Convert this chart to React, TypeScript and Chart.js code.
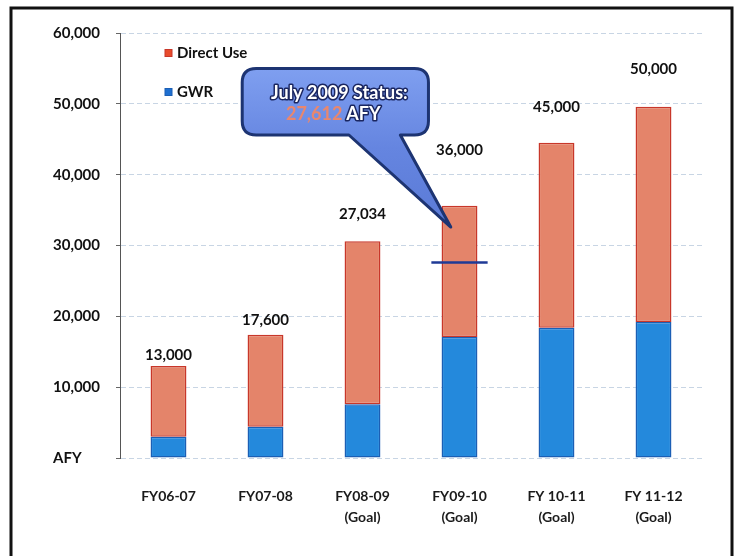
import React, { useEffect, useRef } from 'react';
import { Chart, registerables } from 'chart.js';

Chart.register(...registerables);

// ---- data ----
const categories: (string | string[])[] = [
  'FY06-07',
  'FY07-08',
  ['FY08-09', '(Goal)'],
  ['FY09-10', '(Goal)'],
  ['FY 10-11', '(Goal)'],
  ['FY 11-12', '(Goal)'],
];
const gwrValues = [3000, 4400, 7600, 17100, 18400, 19200];
const directUseValues = [10000, 13000, 23000, 18500, 26100, 30400];
const totalLabels = ['13,000', '17,600', '27,034', '36,000', '45,000', '50,000'];
const seriesNames = ['GWR', 'Direct Use'];
const yAxisUnit = 'AFY';
const statusValue = 27612;
const statusCategoryIndex = 3;
const statusTitle = 'July 2009 Status:';
const statusValueText = '27,612';
const statusUnit = 'AFY';

// ---- styling ----
const directFill = '#e4846a';
const directBorder = '#c8372a';
const gwrFill = '#2489dc';
const gwrBorder = '#1b5fb5';
const labelLift = [11, 15, 27, 56, 36, 38];
// callout annotation in data coordinates (category index, value)
const callout = { x0: 0.76, x1: 2.68, yTop: 55000, yBottom: 45600, baseLeft: 1.86, baseRight: 2.39, tipX: 2.91, tipY: 32600 };

const decorPlugin = {
  id: 'decor',
  beforeDraw(chart: any) {
    const ctx = chart.ctx;
    ctx.save();
    ctx.fillStyle = '#ffffff';
    ctx.fillRect(0, 0, chart.width, chart.height);
    ctx.restore();
  },
  afterDatasetsDraw(chart: any) {
    const ctx = chart.ctx;
    const xs = chart.scales.x;
    const ys = chart.scales.y;
    const area = chart.chartArea;

    // total labels above bars
    ctx.save();
    ctx.font = 'bold 15px Lato';
    ctx.fillStyle = '#111';
    ctx.textAlign = 'center';
    ctx.textBaseline = 'middle';
    totalLabels.forEach((t, i) => {
      const top = ys.getPixelForValue(gwrValues[i] + directUseValues[i]);
      ctx.fillText(t, xs.getPixelForValue(i), top - labelLift[i]);
    });
    ctx.restore();

    // status line
    ctx.save();
    const sy = ys.getPixelForValue(statusValue);
    ctx.strokeStyle = '#1f3a96';
    ctx.lineWidth = 2.5;
    ctx.beginPath();
    ctx.moveTo(xs.getPixelForValue(statusCategoryIndex - 0.29), sy);
    ctx.lineTo(xs.getPixelForValue(statusCategoryIndex + 0.29), sy);
    ctx.stroke();
    ctx.restore();

    // callout
    const L = xs.getPixelForValue(callout.x0);
    const R = xs.getPixelForValue(callout.x1);
    const T = ys.getPixelForValue(callout.yTop);
    const B = ys.getPixelForValue(callout.yBottom);
    const b1 = xs.getPixelForValue(callout.baseLeft);
    const b2 = xs.getPixelForValue(callout.baseRight);
    const tx = xs.getPixelForValue(callout.tipX);
    const ty = ys.getPixelForValue(callout.tipY);
    const r = 14;
    ctx.save();
    ctx.beginPath();
    ctx.moveTo(L + r, T);
    ctx.lineTo(R - r, T);
    ctx.quadraticCurveTo(R, T, R, T + r);
    ctx.lineTo(R, B - r);
    ctx.quadraticCurveTo(R, B, R - r, B);
    ctx.lineTo(b2, B);
    ctx.lineTo(tx, ty);
    ctx.lineTo(b1, B);
    ctx.lineTo(L + r, B);
    ctx.quadraticCurveTo(L, B, L, B - r);
    ctx.lineTo(L, T + r);
    ctx.quadraticCurveTo(L, T, L + r, T);
    ctx.closePath();
    const g = ctx.createLinearGradient(0, T, 0, ty);
    g.addColorStop(0, '#7f9ff0');
    g.addColorStop(0.5, '#6585e0');
    g.addColorStop(1, '#5a7ad6');
    ctx.fillStyle = g;
    ctx.fill();
    ctx.lineJoin = 'round';
    ctx.strokeStyle = '#1d3472';
    ctx.lineWidth = 3;
    ctx.stroke();

    const cx = (L + R) / 2 + 4;
    const midY = (T + B) / 2;
    ctx.font = 'bold 18px Lato';
    ctx.textBaseline = 'middle';
    ctx.lineWidth = 3;
    ctx.strokeStyle = '#1a2660';
    ctx.textAlign = 'center';
    ctx.strokeText(statusTitle, cx, midY - 9);
    ctx.fillStyle = '#ffffff';
    ctx.fillText(statusTitle, cx, midY - 9);
    const w1 = ctx.measureText(statusValueText).width;
    const gap = 4;
    const w2 = ctx.measureText(statusUnit).width;
    const sx = cx - 6 - (w1 + gap + w2) / 2;
    ctx.textAlign = 'left';
    ctx.fillStyle = '#e9876e';
    ctx.fillText(statusValueText, sx, midY + 12);
    ctx.strokeText(statusUnit, sx + w1 + gap, midY + 12);
    ctx.fillStyle = '#ffffff';
    ctx.fillText(statusUnit, sx + w1 + gap, midY + 12);
    ctx.restore();

    // legend (Direct Use above GWR)
    ctx.save();
    const legendItems = [...chart.data.datasets].reverse();
    ctx.font = 'bold 15px Lato';
    ctx.textBaseline = 'middle';
    ctx.textAlign = 'left';
    const lx = area.left + 45;
    legendItems.forEach((ds: any, k: number) => {
      const ly = area.top + 20 + k * 39;
      ctx.fillStyle = ds.legendColor;
      ctx.fillRect(lx, ly - 3.5, 7, 7);
      ctx.strokeStyle = ds.borderColor;
      ctx.lineWidth = 1;
      ctx.strokeRect(lx, ly - 3.5, 7, 7);
      ctx.fillStyle = '#111';
      ctx.fillText(ds.label, lx + 12, ly);
    });
    ctx.restore();
  },
  afterDraw(chart: any) {
    const ctx = chart.ctx;
    ctx.save();
    ctx.strokeStyle = '#111';
    ctx.lineWidth = 3;
    ctx.beginPath();
    ctx.moveTo(11, chart.height);
    ctx.lineTo(11, 8);
    ctx.lineTo(732, 8);
    ctx.lineTo(732, chart.height);
    ctx.stroke();
    ctx.restore();
  },
};

export default function App() {
  const ref = useRef<HTMLCanvasElement | null>(null);
  useEffect(() => {
    if (!ref.current) return;
    const chart = new Chart(ref.current, {
      type: 'bar',
      data: {
        labels: categories,
        datasets: [
          {
            label: seriesNames[0],
            data: gwrValues,
            backgroundColor: gwrFill,
            borderColor: gwrBorder,
            borderWidth: 1.5,
            borderSkipped: false,
            legendColor: '#1e6fd0',
          } as any,
          {
            label: seriesNames[1],
            data: directUseValues,
            backgroundColor: directFill,
            borderColor: directBorder,
            borderWidth: 1.5,
            borderSkipped: false,
            legendColor: '#e84c2c',
          } as any,
        ],
      },
      options: {
        responsive: false,
        animation: false,
        layout: { padding: { left: 53, right: 34, top: 33, bottom: 0 } },
        datasets: { bar: { categoryPercentage: 1, barPercentage: 0.37 } },
        plugins: { legend: { display: false }, tooltip: { enabled: false } },
        scales: {
          x: {
            stacked: true,
            grid: { display: false },
            border: { display: false },
            ticks: {
              autoSkip: false,
              maxRotation: 0,
              padding: 19,
              color: '#1a1a1a',
              font: { family: 'Lato', size: 14, weight: 'bold', lineHeight: 1.57 },
            },
            afterFit: (s: any) => { s.height = 98; },
          },
          y: {
            stacked: true,
            min: 0,
            max: 60000,
            grid: { color: '#c8d5e4', lineWidth: 1, tickLength: 4, tickColor: '#666' },
            border: { display: true, color: '#555', width: 1, dash: [5, 3] },
            ticks: {
              stepSize: 10000,
              crossAlign: 'far',
              color: '#111',
              font: { family: 'Lato', size: 15, weight: 'bold' },
              callback: (v: any) => (Number(v) === 0 ? yAxisUnit : Number(v).toLocaleString('en-US')),
            },
            afterFit: (s: any) => { s.width = 67; },
          },
        },
      } as any,
      plugins: [decorPlugin],
    });
    return () => chart.destroy();
  }, []);
  return (
    <div style={{ position: 'fixed', left: 0, top: 0, width: 736, height: 556 }}>
      <canvas ref={ref} width={736} height={556} style={{ display: 'block', width: 736, height: 556 }} />
    </div>
  );
}
